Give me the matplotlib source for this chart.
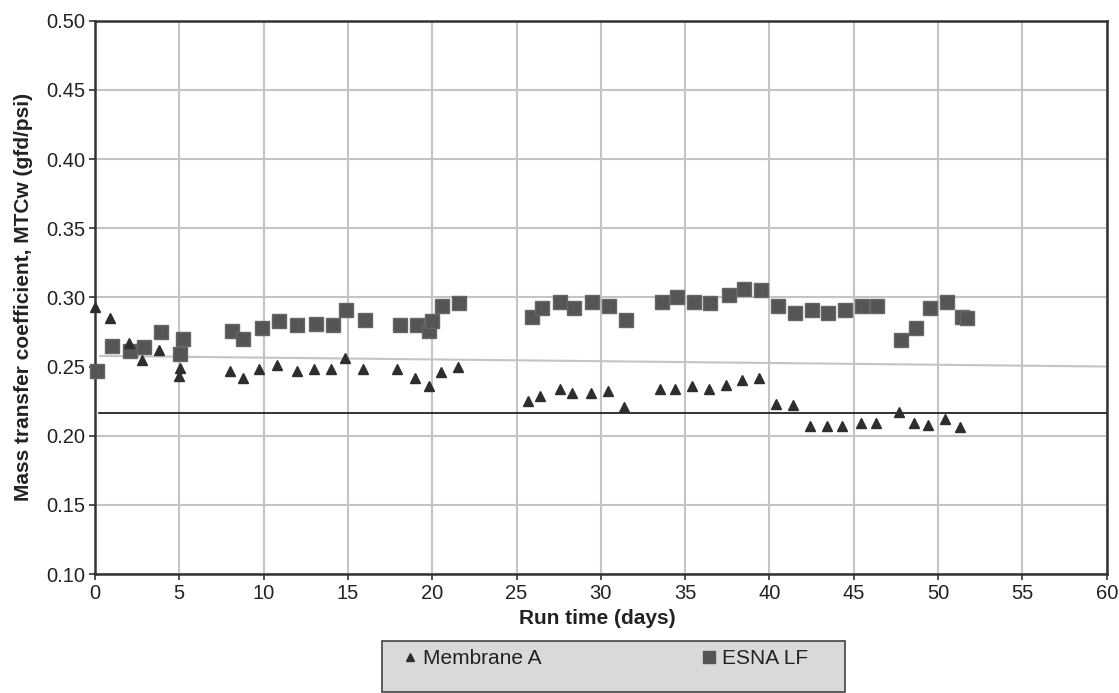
import matplotlib
matplotlib.use('Agg')
import matplotlib.pyplot as plt
from matplotlib.lines import Line2D
from matplotlib.patches import Rectangle

plt.rcParams['font.family'] = ['Liberation Sans', 'DejaVu Sans']

# Membrane A (triangles)
days_a = [0.0, 0.9, 2.0, 2.8, 3.8, 5.05, 5.0, 8.0, 8.8, 9.7, 10.8, 12.0, 13.0, 14.0, 14.8,
          15.9, 17.9, 19.0, 19.8, 20.5, 21.5, 25.7, 26.4, 27.6, 28.3, 29.4, 30.4, 31.4,
          33.5, 34.4, 35.4, 36.4, 37.4, 38.4, 39.4, 40.4, 41.4, 42.4, 43.4, 44.3, 45.4,
          46.3, 47.7, 48.6, 49.4, 50.4, 51.3]
mtc_a = [0.293, 0.285, 0.267, 0.255, 0.262, 0.249, 0.243, 0.247, 0.242, 0.248, 0.251, 0.247,
         0.248, 0.248, 0.256, 0.248, 0.248, 0.242, 0.236, 0.246, 0.250, 0.225, 0.229, 0.234,
         0.231, 0.231, 0.232, 0.221, 0.234, 0.234, 0.236, 0.234, 0.237, 0.240, 0.242, 0.223,
         0.222, 0.207, 0.207, 0.207, 0.209, 0.209, 0.217, 0.209, 0.208, 0.212, 0.206]

# ESNA LF (squares)
days_b = [0.1, 1.0, 2.1, 2.9, 3.9, 5.2, 5.05, 8.1, 8.8, 9.9, 10.9, 12.0, 13.1, 14.1, 14.9,
          16.0, 18.1, 19.1, 19.8, 20.0, 20.6, 21.6, 25.9, 26.5, 27.6, 28.4, 29.5, 30.5,
          31.5, 33.6, 34.5, 35.5, 36.5, 37.6, 38.5, 39.5, 40.5, 41.5, 42.5, 43.5, 44.5,
          45.5, 46.4, 47.8, 48.7, 49.5, 50.5, 51.4, 51.7]
mtc_b = [0.247, 0.265, 0.261, 0.264, 0.275, 0.270, 0.259, 0.276, 0.270, 0.278, 0.283, 0.280,
         0.281, 0.280, 0.291, 0.284, 0.280, 0.280, 0.276, 0.283, 0.294, 0.296, 0.286, 0.292,
         0.297, 0.292, 0.297, 0.294, 0.284, 0.297, 0.300, 0.297, 0.296, 0.302, 0.306, 0.305,
         0.294, 0.289, 0.291, 0.289, 0.291, 0.294, 0.294, 0.269, 0.278, 0.292, 0.297, 0.286,
         0.285]

# reference lines
trend_x = [0.3, 60]
trend_y = [0.2577, 0.250]
limit_x = [0.25, 60]
limit_y = [0.2165, 0.2165]

xticks = list(range(0, 61, 5))
yticks = [0.10, 0.15, 0.20, 0.25, 0.30, 0.35, 0.40, 0.45, 0.50]

fig = plt.figure(figsize=(11.19, 6.93), dpi=100)
ax = fig.add_axes([0.0849, 0.1717, 0.9041, 0.7983])

ax.set_xlim(0, 60)
ax.set_ylim(0.10, 0.50)
ax.set_xticks(xticks)
ax.set_yticks(yticks)
ax.set_yticklabels(['%.2f' % v for v in yticks])
ax.grid(True, color='#c4c4c4', linewidth=1.5, zorder=0)
# the 0.25 gridline is not shown in the original
for val, gl in zip(yticks, ax.yaxis.get_gridlines()):
    if abs(val - 0.25) < 1e-9:
        gl.set_visible(False)
ax.set_axisbelow(True)

ax.plot(trend_x, trend_y, color='#c4c4c4', linewidth=1.5, zorder=1)
ax.plot(limit_x, limit_y, color='#222222', linewidth=1.3, zorder=1)

ax.plot(days_b, mtc_b, 's', color='#555555', markeredgecolor='#666666',
        markersize=10, zorder=3, clip_on=False)
ax.plot(days_a, mtc_a, '^', color='#2e2e2e', markersize=7.5, zorder=4, clip_on=False)

for sp in ax.spines.values():
    sp.set_color('#333333')
    sp.set_linewidth(1.8)

ax.tick_params(axis='both', direction='out', length=4, width=1.2, colors='#333333',
               labelsize=14.5, labelcolor='#222222', pad=3)

ax.set_xlabel('Run time (days)', fontsize=15, fontweight='bold', color='#222222')
ax.set_ylabel('Mass transfer coefficient, MTCw (gfd/psi)', fontsize=15,
              fontweight='bold', color='#222222')
ax.xaxis.set_label_coords(0.497, -0.08)
ax.xaxis.label.set_verticalalignment('center')
ax.yaxis.set_label_coords(-0.071, 0.5)
ax.yaxis.label.set_verticalalignment('center')

# legend box
fig.patches.append(Rectangle((382 / 1119, 0.002), (845 - 382) / 1119, (693 - 641) / 693 - 0.002,
                             transform=fig.transFigure, facecolor='#d9d9d9',
                             edgecolor='#444444', linewidth=1.2, zorder=0))

handles = [Line2D([], [], marker='^', linestyle='none', color='#2e2e2e', markersize=6),
           Line2D([], [], marker='s', linestyle='none', color='#555555', markersize=8.5)]
leg = fig.legend(handles, ['Membrane A', 'ESNA LF'], ncol=2, mode='expand',
                 bbox_to_anchor=(403 / 1119, 1 - 673 / 693, (808 - 403) / 1119, 28 / 693),
                 loc='center', fontsize=15, frameon=False, borderpad=0, borderaxespad=0,
                 handlelength=0.7, handletextpad=0.25, labelcolor='#222222')

fig.savefig('out.png', dpi=100)
